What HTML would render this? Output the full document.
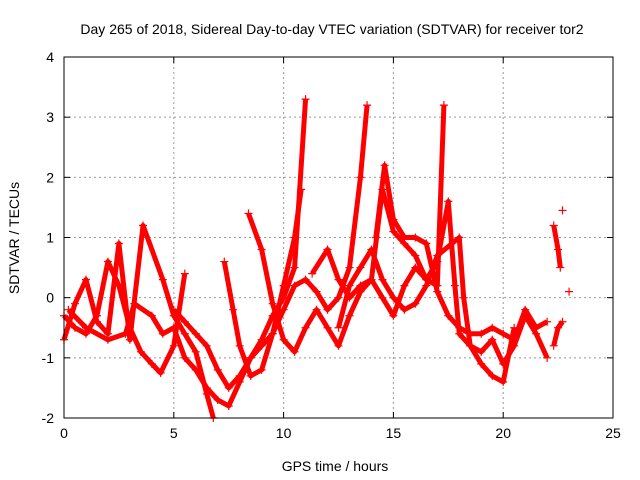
<!DOCTYPE html>
<html><head><meta charset="utf-8"><style>
body{margin:0;background:#fff;}
svg{display:block;font-family:"Liberation Sans",sans-serif;}
</style></head><body>
<svg id="chart" width="640" height="480">
<text x="332" y="34" text-anchor="middle" font-size="14">Day 265 of 2018, Sidereal Day-to-day VTEC variation (SDTVAR) for receiver tor2</text>
<text x="335" y="471" text-anchor="middle" font-size="14">GPS time / hours</text>
<text transform="translate(19,238) rotate(-90)" text-anchor="middle" font-size="14">SDTVAR / TECUs</text>
<g id="grid"></g><g id="marks"></g><g id="axes"></g>
</svg>
<script>
const xTicks=[0,5,10,15,20,25];
const yTicks=[-2,-1,0,1,2,3,4];
const track1=[[0,-0.3],[0.5,-0.5],[1,-0.6],[1.5,-0.3],[2,0.6],[2.5,0.2],[3,-0.5],[3.5,-0.9],[4,-1.1],[4.4,-1.25],[5,-0.8],[5.5,0.4]];
const track2=[[0,-0.7],[0.5,-0.1],[1,0.3],[1.5,-0.4],[2,-0.6],[2.5,0.9],[3,-0.7],[3.6,1.2],[4.5,0.3],[5,-0.3],[5.5,-0.6],[6,-0.9],[6.5,-1.6],[6.8,-2.0]];
const track3=[[0.2,-0.2],[1,-0.5],[2,-0.7],[2.8,-0.6],[3.2,-0.1],[4,-0.3],[4.5,-0.6],[5,-0.5],[5.5,-1.0],[6,-1.2],[6.5,-1.5],[7,-1.7],[7.5,-1.8],[8,-1.4],[8.5,-1.0],[9,-0.7],[9.5,-0.3],[10,0.0],[10.5,0.5],[11,3.3]];
const track4=[[5,-0.2],[5.5,-0.4],[6,-0.6],[6.5,-0.8],[7,-1.2],[7.5,-1.5],[8,-1.3],[8.5,-1.0],[9,-0.8],[9.5,-0.6],[10,-0.2],[10.5,0.2],[11,0.3],[11.5,0.1],[12,-0.2],[12.5,0.0],[13,0.5],[13.5,2.0],[13.8,3.2]];
const track5=[[7.3,0.6],[7.7,-0.2],[8,-0.8],[8.5,-1.3],[9,-1.2],[9.5,-0.6],[10,0.2],[10.5,1.0],[10.8,1.8]];
const track6=[[8.4,1.4],[9,0.8],[9.5,-0.1],[10,-0.7],[10.5,-0.9],[11,-0.5],[11.5,-0.2],[12,-0.5],[12.5,-0.8],[13,-0.3],[13.5,0.1],[14,0.3],[14.5,0.0],[15,-0.3],[15.5,0.2],[16,0.5],[16.5,0.3],[17,0.2],[17.3,3.2]];
const track7=[[11.3,0.4],[12,0.8],[12.5,0.3],[13,0.0],[13.5,0.2],[14,0.3],[14.5,1.8],[15,1.1],[15.5,0.9],[16,0.7],[16.5,0.3],[17,0.6],[17.5,1.6],[17.8,0.2],[18,-0.6],[18.5,-0.8],[19,-1.1],[19.5,-1.3],[20,-1.4],[20.5,-0.5]];
const track8=[[14.2,1.0],[14.6,2.2],[15,1.3],[15.5,1.0],[16,1.0],[16.5,0.9],[17,0.1],[17.5,-0.3],[18,-0.5],[18.5,-0.6],[19,-0.6],[19.5,-0.5],[20,-0.6],[20.5,-0.7],[21,-0.2],[21.5,-0.5],[22,-0.4]];
const track9=[[12.5,-0.5],[13,0.2],[13.5,0.5],[14,0.8],[14.5,0.3],[15,0.0],[15.5,-0.2],[16,-0.1],[16.5,0.2],[17,0.7],[18,1.0],[18.2,0.0],[18.5,-0.8],[19,-0.9],[19.5,-0.7],[20,-1.1],[20.5,-0.8],[21,-0.3],[21.5,-0.6],[22,-1.0]];
const track10=[[22.3,-0.8],[22.5,-0.5],[22.7,-0.4]];
const track11=[[22.3,1.2],[22.5,0.8],[22.6,0.5]];
const isolated=[[22.7,1.45],[23,0.1]];
const tracks=[track1,track2,track3,track4,track5,track6,track7,track8,track9,track10,track11,isolated];

const L=64,R=613,T=57,B=418;
const xs=v=>L+(v-0)/(25-0)*(R-L);
const ys=v=>B-(v+2)/6*(B-T);
const NS="http://www.w3.org/2000/svg";
function mk(tag,attrs,parent){const e=document.createElementNS(NS,tag);for(const k in attrs)e.setAttribute(k,attrs[k]);parent.appendChild(e);return e;}
const grid=document.getElementById('grid'),axes=document.getElementById('axes'),marks=document.getElementById('marks');
mk('rect',{x:L,y:T,width:R-L,height:B-T,fill:'none',stroke:'#000','stroke-width':1},axes);
xTicks.forEach(t=>{
  const x=xs(t);
  if(t>0&&t<25){const g=mk('line',{x1:x,x2:x,y1:T,y2:B,stroke:'#999','stroke-dasharray':'2,3'},grid);}
  mk('line',{x1:x,x2:x,y1:B,y2:B-6,stroke:'#000'},axes);mk('line',{x1:x,x2:x,y1:T,y2:T+6,stroke:'#000'},axes);
  const tx=mk('text',{x:x,y:B+20,'text-anchor':'middle','font-size':14},axes);tx.textContent=t;
  
  
});
yTicks.forEach(t=>{
  const y=ys(t);
  if(t>-2&&t<4){const g=mk('line',{x1:L,x2:R,y1:y,y2:y,stroke:'#999','stroke-dasharray':'2,3'},grid);}
  mk('line',{x1:L,x2:L+6,y1:y,y2:y,stroke:'#000'},axes);mk('line',{x1:R,x2:R-6,y1:y,y2:y,stroke:'#000'},axes);
  const tx=mk('text',{x:L-10,y:y+5,'text-anchor':'end','font-size':14},axes);tx.textContent=t;
  
  
});
tracks.forEach((tr,i)=>{
  if(tr!==isolated){
    const pl=mk('polyline',{points:tr.map(p=>xs(p[0])+','+ys(p[1])).join(' '),fill:'none',stroke:'#f00','stroke-width':5,'stroke-linejoin':'round'},marks);
    
    
  }
  tr.forEach(p=>{
    const x=xs(p[0]),y=ys(p[1]);
    const m=mk('path',{d:`M${x-4},${y}H${x+4}M${x},${y-4}V${y+4}`,stroke:'#f00','stroke-width':1.2},marks);
    
    
  });
});
</script>
</body></html>
